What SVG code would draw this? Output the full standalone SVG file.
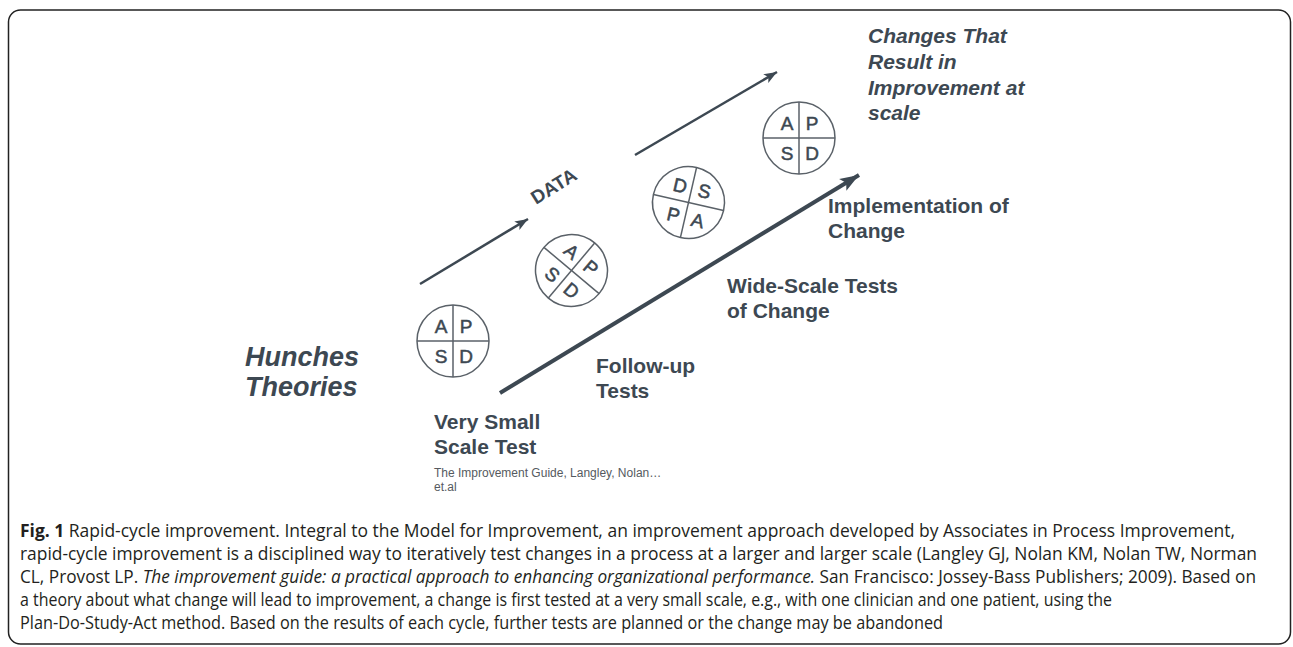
<svg xmlns="http://www.w3.org/2000/svg" width="1293" height="647" viewBox="0 0 1293 647">
<style>
.lbl{font-family:"Liberation Sans",Arial,sans-serif;font-weight:bold;font-size:21px;fill:#3d4852}
.it{font-style:italic}
.big{font-size:27px}
.cite{font-family:"Liberation Sans",Arial,sans-serif;font-size:12px;fill:#555a60}
.ltr{font-family:"Liberation Sans",Arial,sans-serif;font-size:19px;fill:#3d4852;stroke:#3d4852;stroke-width:0.5;text-anchor:middle}
.pdsa{fill:none;stroke:#5a6168;stroke-width:1.5}
.cap{font-family:"Open Sans","Noto Sans",sans-serif;font-size:17.5px;fill:#231f20}
.conn{stroke:#3d4852;fill:none}
</style>
<defs>
<marker id="ahS" markerUnits="userSpaceOnUse" markerWidth="14" markerHeight="12" viewBox="0 0 14 12" refX="13" refY="6" orient="auto">
<path d="M0,1 L13,6 L0,11 L3,6 Z" fill="#3d4852"/>
</marker>
<marker id="ahL" markerUnits="userSpaceOnUse" markerWidth="20" markerHeight="16" viewBox="0 0 20 16" refX="19" refY="8" orient="auto">
<path d="M0,1 L19,8 L0,15 L4,8 Z" fill="#3d4852"/>
</marker>
</defs>
<rect x="8.5" y="10" width="1282" height="634" rx="12" fill="#fff" stroke="#222" stroke-width="1.5"/>

<g id="connectors">
<line class="conn" x1="420" y1="284" x2="528" y2="219" stroke-width="2.5" marker-end="url(#ahS)"/>
<line class="conn" x1="635" y1="155" x2="777" y2="72" stroke-width="2.5" marker-end="url(#ahS)"/>
<line class="conn" x1="500" y1="393" x2="859" y2="175" stroke-width="4" marker-end="url(#ahL)"/>
<text class="lbl" style="font-size:19px" transform="translate(536,205) rotate(-32)">DATA</text>
</g>

<g id="hunches">
<text class="lbl it big" x="245" y="366">Hunches</text>
<text class="lbl it big" x="245" y="396">Theories</text>
</g>

<g id="pdsa1" transform="translate(453,341)">
<circle class="pdsa" r="36"/>
<line class="pdsa" x1="-36" y1="0" x2="36" y2="0"/>
<line class="pdsa" x1="0" y1="-36" x2="0" y2="36"/>
<text class="ltr" x="-12" y="-8">A</text>
<text class="ltr" x="13" y="-8">P</text>
<text class="ltr" x="-12" y="22">S</text>
<text class="ltr" x="13" y="22">D</text>
</g>

<g id="pdsa2" transform="translate(571.5,270.5) rotate(40)">
<circle class="pdsa" r="36"/>
<line class="pdsa" x1="-36" y1="0" x2="36" y2="0"/>
<line class="pdsa" x1="0" y1="-36" x2="0" y2="36"/>
<text class="ltr" x="-12" y="-8">A</text>
<text class="ltr" x="13" y="-8">P</text>
<text class="ltr" x="-12" y="22">S</text>
<text class="ltr" x="13" y="22">D</text>
</g>

<g id="pdsa3" transform="translate(688.5,202.5) rotate(13)">
<circle class="pdsa" r="36"/>
<line class="pdsa" x1="-36" y1="0" x2="36" y2="0"/>
<line class="pdsa" x1="0" y1="-36" x2="0" y2="36"/>
<text class="ltr" x="-12" y="-8">D</text>
<text class="ltr" x="13" y="-8">S</text>
<text class="ltr" x="-12" y="22">P</text>
<text class="ltr" x="13" y="22">A</text>
</g>

<g id="pdsa4" transform="translate(799,138)">
<circle class="pdsa" r="36"/>
<line class="pdsa" x1="-36" y1="0" x2="36" y2="0"/>
<line class="pdsa" x1="0" y1="-36" x2="0" y2="36"/>
<text class="ltr" x="-12" y="-8">A</text>
<text class="ltr" x="13" y="-8">P</text>
<text class="ltr" x="-12" y="22">S</text>
<text class="ltr" x="13" y="22">D</text>
</g>

<g id="changes">
<text class="lbl it" x="868" y="43">Changes That</text>
<text class="lbl it" x="868" y="69">Result in</text>
<text class="lbl it" x="868" y="95">Improvement at</text>
<text class="lbl it" x="868" y="120">scale</text>
</g>

<g id="implementation">
<text class="lbl" x="828" y="213">Implementation of</text>
<text class="lbl" x="828" y="238">Change</text>
</g>

<g id="widescale">
<text class="lbl" x="727" y="293">Wide-Scale Tests</text>
<text class="lbl" x="727" y="318">of Change</text>
</g>

<g id="followup">
<text class="lbl" x="596" y="373">Follow-up</text>
<text class="lbl" x="596" y="398">Tests</text>
</g>

<g id="verysmall">
<text class="lbl" x="434" y="429">Very Small</text>
<text class="lbl" x="434" y="454">Scale Test</text>
<text class="cite" x="434" y="477">The Improvement Guide, Langley, Nolan…</text>
<text class="cite" x="434" y="491">et.al</text>
</g>

<g id="caption">
<text class="cap" x="20" y="537" textLength="1215" lengthAdjust="spacingAndGlyphs"><tspan font-weight="bold">Fig. 1</tspan> Rapid-cycle improvement. Integral to the Model for Improvement, an improvement approach developed by Associates in Process Improvement,</text>
<text class="cap" x="20" y="560" textLength="1237" lengthAdjust="spacingAndGlyphs">rapid-cycle improvement is a disciplined way to iteratively test changes in a process at a larger and larger scale (Langley GJ, Nolan KM, Nolan TW, Norman</text>
<text class="cap" x="20" y="583" textLength="1236" lengthAdjust="spacingAndGlyphs">CL, Provost LP. <tspan font-style="italic">The improvement guide: a practical approach to enhancing organizational performance.</tspan> San Francisco: Jossey-Bass Publishers; 2009). Based on</text>
<text class="cap" x="20" y="606" textLength="1092" lengthAdjust="spacingAndGlyphs">a theory about what change will lead to improvement, a change is first tested at a very small scale, e.g., with one clinician and one patient, using the</text>
<text class="cap" x="20" y="629" textLength="923" lengthAdjust="spacingAndGlyphs">Plan-Do-Study-Act method. Based on the results of each cycle, further tests are planned or the change may be abandoned</text>
</g>
</svg>
